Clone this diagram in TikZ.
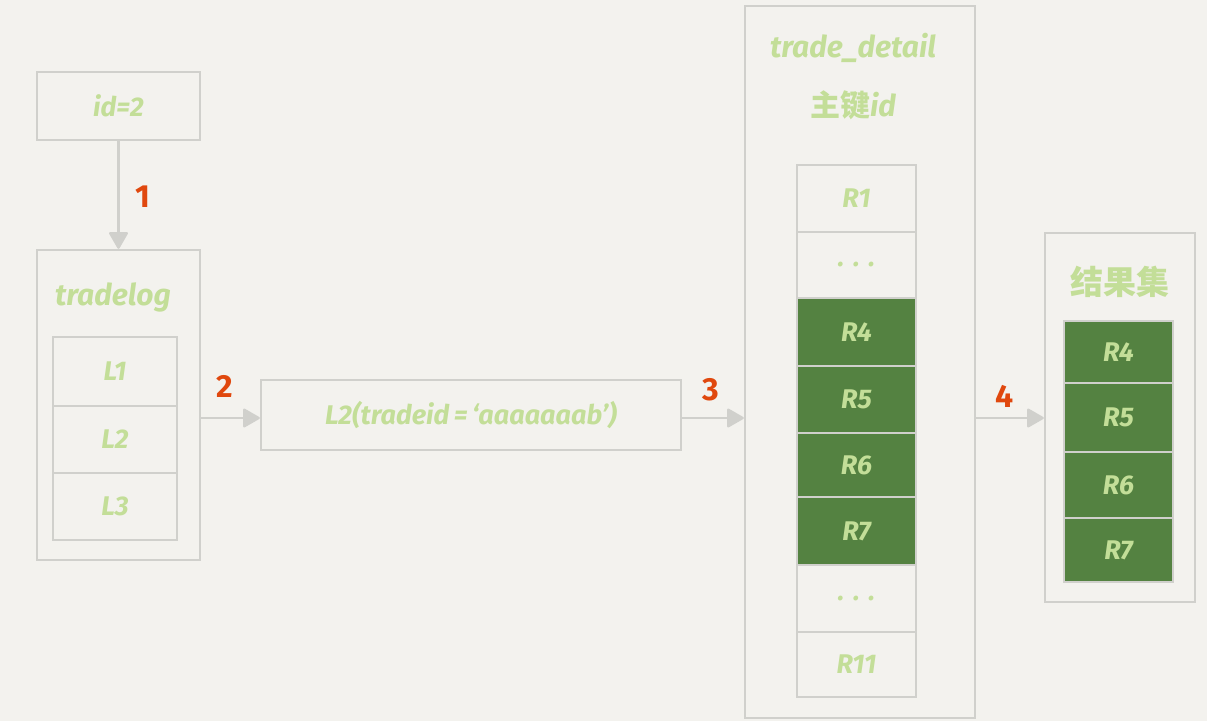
\documentclass[tikz,border=0pt]{standalone}
\usepackage{fontspec}
\setmainfont{Fira Sans}
\newfontfamily\cjk{Noto Sans CJK SC}
\usetikzlibrary{arrows.meta}
\definecolor{bg}{HTML}{F3F2EE}
\definecolor{ln}{HTML}{D0D0CC}
\definecolor{lg}{HTML}{C3DE98}
\definecolor{dg}{HTML}{548241}
\definecolor{rd}{HTML}{E0480E}
\tikzset{
  box/.style={draw=ln, line width=2.4pt, inner sep=0pt, rectangle},
  cell/.style={box, text=lg, font=\fontsize{27}{27}\selectfont\bfseries\itshape},
  hit/.style={cell, fill=dg},
  lbl/.style={text=lg, inner sep=0pt, font=\fontsize{30}{30}\selectfont\bfseries\itshape},
  num/.style={text=rd, font=\fontsize{32}{32}\selectfont\bfseries, inner sep=0pt},
  arr/.style={draw=ln, line width=2.4pt, -{Triangle[width=20pt,length=18pt,round]}, fill=ln},
}
\begin{document}
\begin{tikzpicture}[x=1pt,y=-1pt]
\fill[bg] (0,0) rectangle (1207,721);
\useasboundingbox (0,0) rectangle (1207,721);
% id=2
\node[cell, minimum width=163pt, minimum height=68pt] (id) at (118.5,106) {id=2};
% tradelog
\node[box, minimum width=163pt, minimum height=310pt] (tl) at (118.5,405) {};
\node[lbl] (tlt) at (113,297) {tradelog};
\node[cell, minimum width=124pt, minimum height=69pt] (l1) at (115,371.5) {L1};
\node[cell, minimum width=124pt, minimum height=67pt] (l2) at (115,439.5) {L2};
\node[cell, minimum width=124pt, minimum height=67pt] (l3) at (115,506.5) {L3};
% L2 box
\node[cell, minimum width=420pt, minimum height=70pt] (q) at (471,415) {L2(tradeid\,=\,‘aaaaaaab’)};
% trade_detail
\node[box, minimum width=230pt, minimum height=712pt] (td) at (860,362) {};
\node[lbl] (tdt) at (853,48) {trade\_detail};
\node[lbl] (tdk) at (853,105) {{\cjk\bfseries 主键}id};
\node[cell, minimum width=119pt, minimum height=67pt] (r1) at (856.5,198.5) {R1};
\node[cell, minimum width=119pt, minimum height=66pt] (rd1) at (856.5,265) {.\,\,.\,\,.};
\node[hit, minimum width=119pt, minimum height=68pt] (r4) at (856.5,332) {R4};
\node[hit, minimum width=119pt, minimum height=67pt] (r5) at (856.5,399.5) {R5};
\node[hit, minimum width=119pt, minimum height=64pt] (r6) at (856.5,465) {R6};
\node[hit, minimum width=119pt, minimum height=68pt] (r7) at (856.5,531) {R7};
\node[cell, minimum width=119pt, minimum height=67pt] (rd2) at (856.5,598.5) {.\,\,.\,\,.};
\node[cell, minimum width=119pt, minimum height=65pt] (r11) at (856.5,664.5) {R11};
% result set
\node[box, minimum width=150pt, minimum height=369pt] (rs) at (1120,417.5) {};
\node[lbl, font=\fontsize{33}{33}\selectfont\cjk\bfseries] (rst) at (1120,282) {结果集};
\node[hit, minimum width=109pt, minimum height=62pt] (s4) at (1118.5,352) {R4};
\node[hit, minimum width=109pt, minimum height=69pt] (s5) at (1118.5,417.5) {R5};
\node[hit, minimum width=109pt, minimum height=66pt] (s6) at (1118.5,485) {R6};
\node[hit, minimum width=109pt, minimum height=64pt] (s7) at (1118.5,550) {R7};
% arrows
\draw[arr] (id.south) -- (tl.north);
\node[num] (n1) at (143,197) {1};
\coordinate (a2) at (tl.east |- 0,418);
\coordinate (b2) at (q.west |- 0,418);
\draw[arr] (a2) -- (b2);
\node[num] (n2) at (225,386) {2};
\coordinate (a3) at (q.east |- 0,418);
\coordinate (b3) at (td.west |- 0,418);
\draw[arr] (a3) -- (b3);
\node[num] (n3) at (711,390) {3};
\coordinate (a4) at (td.east |- 0,418);
\coordinate (b4) at (rs.west |- 0,418);
\draw[arr] (a4) -- (b4);
\node[num] (n4) at (1005,396) {4};
\end{tikzpicture}
\end{document}
